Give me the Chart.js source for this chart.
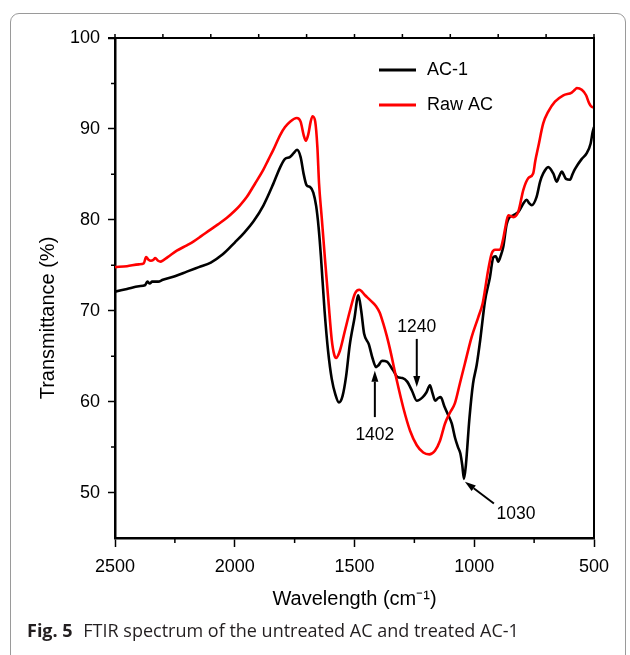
<!DOCTYPE html>
<html>
<head>
<meta charset="utf-8">
<script src="https://cdn.jsdelivr.net/npm/chart.js@4.4.1/dist/chart.umd.min.js"></script>
<style>
  html, body { margin: 0; padding: 0; background: #fff; }
  #wrap { position: relative; width: 630px; height: 655px; overflow: hidden; }
  #frame { position: absolute; left: 10px; top: 13px; width: 616px; height: 660px; border: 1px solid #9a9a9a; border-radius: 9px; box-sizing: border-box; }
  canvas { position: absolute; left: 0; top: 0; }
  #caption { position: absolute; left: 27px; top: 618px; font-family: "Open Sans", "Noto Sans", sans-serif; font-size: 18px; color: #231f20; white-space: nowrap; }
  #caption b { font-weight: 700; margin-right: 6px; }
</style>
</head>
<body>
<div id="wrap">
  <div id="frame"></div>
  <canvas id="c" width="630" height="655"></canvas>
  <div id="caption"><b>Fig. 5</b> FTIR spectrum of the untreated AC and treated AC-1</div>
</div>
<script>
// ---- data ----
const seriesNames = ['AC-1', 'Raw AC'];

const ac1Wavenumber = [2500,2450,2400,2375,2365,2355,2345,2320,2300,2250,2200,2150,2100,2050,2000,1960,1920,1880,1840,1810,1790,1770,1755,1740,1725,1712,1700,1685,1672,1660,1650,1640,1625,1610,1595,1580,1565,1550,1535,1520,1500,1484,1472,1460,1440,1425,1410,1400,1385,1365,1340,1320,1300,1280,1260,1240,1215,1200,1185,1175,1163,1150,1140,1125,1110,1094,1080,1068,1058,1050,1043,1035,1020,1005,990,975,955,935,920,910,900,890,879,865,855,837,815,795,781,770,760,740,725,712,691,670,656,645,635,617,600,590,579,551,531,514,506,500];
const ac1Transmittance = [72.1,72.4,72.7,72.8,73.2,73.0,73.2,73.2,73.4,73.8,74.3,74.8,75.3,76.2,77.5,78.6,79.9,81.6,83.9,85.8,86.7,86.9,87.3,87.7,86.9,85.0,83.8,83.6,83.0,81.5,79.2,75.9,70.0,65.5,62.5,60.8,59.9,60.6,62.8,66.2,69.2,71.7,70.0,67.5,66.3,64.8,63.8,64.0,64.5,64.4,63.5,62.7,62.6,62.2,61.2,60.1,60.5,61.0,61.8,61.0,60.1,60.4,60.5,59.5,58.6,57.6,56.0,55.0,54.3,53.0,51.5,53.0,58.2,62.0,64.0,66.8,71.1,73.6,75.9,76.0,75.4,76.0,77.0,79.5,80.2,80.5,80.9,81.8,82.2,81.8,81.6,82.5,84.2,85.1,85.8,85.1,84.2,84.8,85.3,84.5,84.4,85.0,85.6,86.7,87.3,88.4,89.6,90.2];

const rawWavenumber = [2500,2450,2400,2380,2370,2360,2350,2340,2332,2320,2310,2280,2242,2200,2173,2140,2103,2070,2034,2000,1978,1950,1915,1881,1860,1839,1811,1790,1769,1741,1725,1712,1703,1693,1683,1675,1664,1655,1648,1637,1623,1609,1595,1585,1577,1561,1540,1519,1498,1480,1456,1428,1410,1395,1380,1365,1352,1324,1296,1268,1240,1213,1188,1164,1143,1122,1101,1081,1060,1039,1011,983,965,955,945,927,913,893,880,872,858,837,816,795,774,754,745,733,712,691,663,628,593,580,572,551,533,520,507,500];
const rawTransmittance = [74.8,74.9,75.1,75.2,75.9,75.6,75.5,75.6,75.8,75.5,75.4,75.9,76.6,77.2,77.6,78.2,78.9,79.5,80.2,81.0,81.6,82.5,84.0,85.5,86.6,87.7,89.3,90.2,90.8,91.2,90.8,89.3,88.7,89.4,90.8,91.4,90.8,88.0,84.0,80.3,75.6,71.1,66.8,65.2,64.8,65.6,67.8,70.0,71.9,72.3,71.7,71.0,70.5,69.8,68.6,67.2,65.8,62.4,59.3,56.8,55.2,54.4,54.2,54.6,55.7,57.6,58.8,59.8,62.0,64.2,67.1,69.3,70.8,72.3,74.0,76.3,76.7,76.7,77.8,78.9,80.5,80.3,80.9,83.3,84.6,85.1,86.5,88.0,90.6,91.9,93.0,93.7,94.0,94.3,94.5,94.3,93.7,92.8,92.4,92.4];

const xTickValues = [2500, 2000, 1500, 1000, 500];
const yTickValues = [50, 60, 70, 80, 90, 100];
const xMinorTicks = [2250, 1750, 1250, 750];
const yMinorTicks = [55, 65, 75, 85, 95];
const topTicks = [2500, 2300, 2100, 1900, 1700, 1500, 1300, 1100, 900, 700, 500];

// peak labels (data coordinates): label, text position, arrow tail, arrow tip
const peakLabels = ['1402', '1240', '1030'];
const peakAnno = [
  { text: [1415, 56.3], from: [1415, 58.3], to: [1415, 63.4] },
  { text: [1240, 68.2], from: [1240, 66.9], to: [1240, 61.6] },
  { text: [826, 47.6],  from: [918, 48.8],  to: [1039, 51.2] }
];

const toPoints = (xs, ys) => xs.map((v, i) => ({ x: v, y: ys[i] }));
const FONT = "'Liberation Sans', Arial, sans-serif";

const decor = {
  id: 'decor',
  afterDraw(chart) {
    const { ctx, chartArea: a, scales: { x, y } } = chart;
    ctx.save();
    ctx.strokeStyle = '#000';
    ctx.lineCap = 'butt';
    // top & right frame
    ctx.lineWidth = 2;
    ctx.beginPath();
    ctx.moveTo(a.left - 7, a.top);
    ctx.lineTo(a.right, a.top);
    ctx.lineTo(a.right, a.bottom);
    ctx.stroke();
    // top ticks (upward)
    ctx.lineWidth = 1.5;
    ctx.beginPath();
    topTicks.forEach(v => { const px = x.getPixelForValue(v); ctx.moveTo(px, a.top); ctx.lineTo(px, a.top - 4); });
    // minor ticks
    xMinorTicks.forEach(v => { const px = x.getPixelForValue(v); ctx.moveTo(px, a.bottom); ctx.lineTo(px, a.bottom + 5); });
    yMinorTicks.forEach(v => { const py = y.getPixelForValue(v); ctx.moveTo(a.left, py); ctx.lineTo(a.left - 4, py); });
    ctx.stroke();

    // legend
    ctx.font = '18px ' + FONT;
    ctx.textBaseline = 'middle';
    ctx.textAlign = 'left';
    chart.data.datasets.forEach((ds, i) => {
      const ly = a.top + 32 + i * 35;
      ctx.strokeStyle = ds.borderColor;
      ctx.lineWidth = 3;
      ctx.beginPath();
      ctx.moveTo(a.left + 264, ly);
      ctx.lineTo(a.left + 301, ly);
      ctx.stroke();
      ctx.fillStyle = '#000';
      ctx.fillText(ds.label, a.left + 312, ly);
    });

    // peak annotations
    ctx.font = '17.5px ' + FONT;
    ctx.textAlign = 'center';
    ctx.fillStyle = '#000';
    ctx.strokeStyle = '#000';
    peakAnno.forEach((p, i) => {
      const tx = x.getPixelForValue(p.text[0]), ty = y.getPixelForValue(p.text[1]);
      ctx.fillText(peakLabels[i], tx, ty);
      const fx = x.getPixelForValue(p.from[0]), fy = y.getPixelForValue(p.from[1]);
      const ex = x.getPixelForValue(p.to[0]), ey = y.getPixelForValue(p.to[1]);
      const ang = Math.atan2(ey - fy, ex - fx);
      const hl = 11, hw = 3.5;
      const bx = ex - hl * Math.cos(ang), by = ey - hl * Math.sin(ang);
      ctx.lineWidth = 2;
      ctx.beginPath();
      ctx.moveTo(fx, fy);
      ctx.lineTo(bx, by);
      ctx.stroke();
      ctx.beginPath();
      ctx.moveTo(ex, ey);
      ctx.lineTo(bx + hw * Math.sin(ang), by - hw * Math.cos(ang));
      ctx.lineTo(bx - hw * Math.sin(ang), by + hw * Math.cos(ang));
      ctx.closePath();
      ctx.fill();
    });
    ctx.restore();
  }
};

new Chart(document.getElementById('c'), {
  type: 'line',
  data: {
    datasets: [
      { label: seriesNames[0], data: toPoints(ac1Wavenumber, ac1Transmittance), borderColor: '#000000', borderWidth: 2.6, pointRadius: 0, cubicInterpolationMode: 'monotone', order: 1 },
      { label: seriesNames[1], data: toPoints(rawWavenumber, rawTransmittance), borderColor: '#ff0000', borderWidth: 2.6, pointRadius: 0, cubicInterpolationMode: 'monotone', order: 0 }
    ]
  },
  options: {
    responsive: false,
    animation: false,
    layout: { padding: { left: 0, right: 36, top: 38, bottom: 0 } },
    plugins: { legend: { display: false }, tooltip: { enabled: false } },
    scales: {
      x: {
        type: 'linear', reverse: true, min: 500, max: 2500,
        afterFit: s => { s.height = 117; },
        afterBuildTicks: s => { s.ticks = xTickValues.map(v => ({ value: v })); },
        ticks: { color: '#000', font: { family: FONT, size: 18 }, padding: 9, maxRotation: 0, autoSkip: false, callback: v => String(v) },
        grid: { display: true, drawOnChartArea: false, drawTicks: true, tickLength: 9, tickColor: '#000', tickWidth: 1.5 },
        border: { display: true, color: '#000', width: 2.5 },
        title: { display: true, text: 'Wavelength (cm\u207B\u00B9)', color: '#000', font: { family: FONT, size: 20 }, padding: { top: 0, bottom: 44 } }
      },
      y: {
        type: 'linear', min: 45, max: 100,
        afterFit: s => { s.width = 115; },
        afterBuildTicks: s => { s.ticks = yTickValues.map(v => ({ value: v })); },
        ticks: { color: '#000', font: { family: FONT, size: 18 }, padding: 8, autoSkip: false, callback: v => String(v) },
        grid: { display: true, drawOnChartArea: false, drawTicks: true, tickLength: 7, tickColor: '#000', tickWidth: 1.5 },
        border: { display: true, color: '#000', width: 2.5 },
        title: { display: true, text: 'Transmittance (%)\u2003\u2003\u2003', color: '#000', font: { family: FONT, size: 20 }, padding: { top: 36, bottom: 0 } }
      }
    }
  },
  plugins: [decor]
});
</script>
</body>
</html>
